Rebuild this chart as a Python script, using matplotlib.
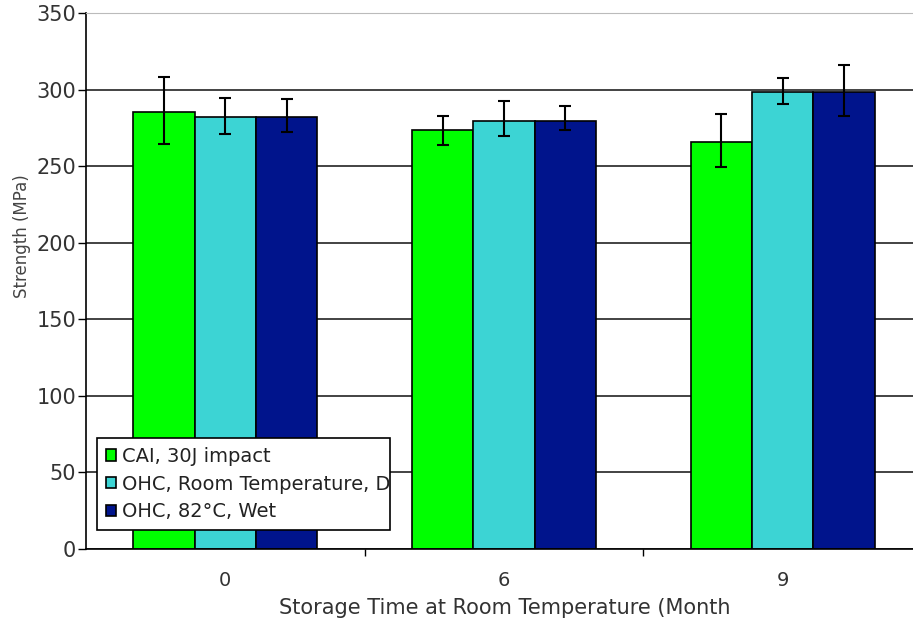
import numpy as np
import matplotlib.pyplot as plt
from matplotlib.patches import Rectangle

months = ["0", "6", "9"]
series = ["CAI, 30J impact", "OHC, Room Temperature, Dry", "OHC, 82°C, Wet"]
colors = ["#00FF00", "#3CD4D4", "#00148C"]

means = [
    [285.6, 273.6, 265.6],
    [282.3, 279.7, 298.6],
    [282.3, 279.7, 298.6],
]
err_hi = [
    [308.4, 283.0, 283.8],
    [294.3, 292.7, 307.3],
    [293.6, 289.3, 316.0],
]
err_lo = [
    [264.5, 263.8, 249.7],
    [271.0, 269.9, 290.4],
    [272.0, 273.6, 282.7],
]

W, H = 913, 619
fig = plt.figure(figsize=(W / 100, H / 100), dpi=100)
ax = fig.add_axes([86 / W, 70 / H, 836 / W, 536 / H])

x = np.arange(len(months))
bw = 0.22
for i, (m, hi, lo, c, lab) in enumerate(zip(means, err_hi, err_lo, colors, series)):
    m = np.array(m)
    yerr = [m - np.array(lo), np.array(hi) - m]
    ax.bar(x + (i - 1) * bw, m, bw, color=c, edgecolor="black", linewidth=1.2,
           label=lab, zorder=2)
    ax.errorbar(x + (i - 1) * bw, m, yerr=yerr, fmt="none", ecolor="black",
                elinewidth=1.5, capsize=4, capthick=1.5, zorder=3)

ax.set_xlim(-0.5, 2.5)
ax.set_ylim(0, 350)
ax.set_yticks(np.arange(0, 351, 50))
ax.set_xticks(x)
ax.set_xticklabels(months)
ax.set_xticks([0.5, 1.5], minor=True)
ax.tick_params(axis="x", which="major", length=0, pad=16, labelsize=14)
ax.tick_params(axis="x", which="minor", length=5, width=1, direction="out")
ax.tick_params(axis="y", length=6, width=1, direction="out", labelsize=15, pad=1)
for t in ax.get_yticklabels() + ax.get_xticklabels():
    t.set_color("#333333")

ax.yaxis.grid(True, color="#222222", linewidth=1.2, zorder=0)
ax.set_axisbelow(True)
ax.spines["top"].set_color("#bbbbbb")
ax.spines["right"].set_visible(False)
ax.spines["left"].set_linewidth(1.2)
ax.spines["bottom"].set_linewidth(1.2)

ax.set_ylabel("Strength (MPa)", fontsize=12, color="#444444")
ax.yaxis.set_label_coords(-0.066, 0.584)
xl = ax.set_xlabel("Storage Time at Room Temperature (Months)", fontsize=15,
                   color="#333333")
ax.xaxis.set_label_coords(0.5125, -0.091)
clip = Rectangle((0, 0), 731 / W, 1, transform=fig.transFigure, visible=False)
fig.add_artist(clip)
xl.set_clip_path(clip)

leg = ax.legend(loc="lower left", bbox_to_anchor=(97 / W, 89 / H, 293 / W, 93 / H),
                bbox_transform=fig.transFigure, mode="expand", fontsize=14,
                frameon=True, fancybox=False, edgecolor="black", framealpha=1,
                handlelength=0.55, handleheight=0.55, handletextpad=0.3,
                borderpad=0.45, labelspacing=0.45, borderaxespad=0)
leg.get_frame().set_linewidth(1.2)
lclip = Rectangle((97 / W, 0), 292 / W, 1, transform=fig.transFigure, visible=False)
fig.add_artist(lclip)
for t in leg.get_texts():
    t.set_color("#222222")
    t.set_clip_path(lclip)

fig.savefig("out.png", dpi=100, facecolor="white")
